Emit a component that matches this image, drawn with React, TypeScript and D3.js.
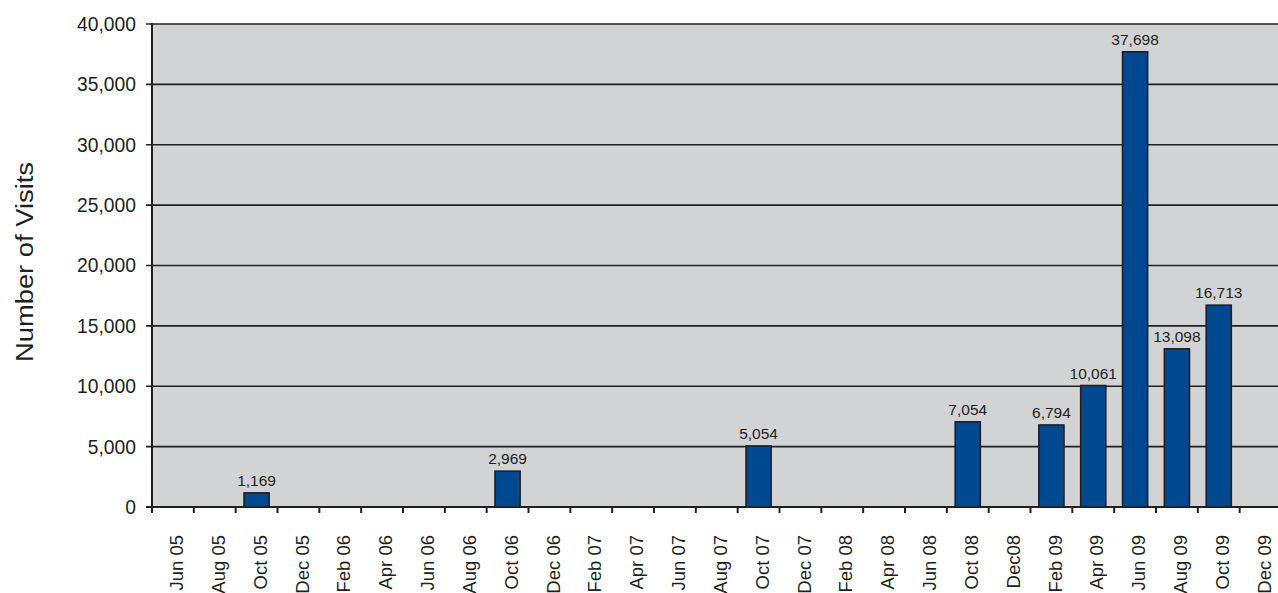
import React from "react";
import { scaleBand, scaleLinear, format } from "d3";

const svgWidth = 1278;
const svgHeight = 593;
const margin = { top: 24, left: 152, bottom: 86 };
const plotRight = 1281.5;
const tickLen = 6;

const months = [
  "Jun 05", "Aug 05", "Oct 05", "Dec 05", "Feb 06", "Apr 06", "Jun 06",
  "Aug 06", "Oct 06", "Dec 06", "Feb 07", "Apr 07", "Jun 07", "Aug 07",
  "Oct 07", "Dec 07", "Feb 08", "Apr 08", "Jun 08", "Oct 08", "Dec08",
  "Feb 09", "Apr 09", "Jun 09", "Aug 09", "Oct 09", "Dec 09",
];
const visitMonths = [
  "Oct 05", "Oct 06", "Oct 07", "Oct 08", "Feb 09", "Apr 09", "Jun 09",
  "Aug 09", "Oct 09",
];
const visits = [1169, 2969, 5054, 7054, 6794, 10061, 37698, 13098, 16713];
const yTicks = [0, 5000, 10000, 15000, 20000, 25000, 30000, 35000, 40000];

const ink = "#231f20";
const fmt = format(",");

export default function App() {
  const bottom = svgHeight - margin.bottom;
  const xScale = scaleBand<string>()
    .domain(months)
    .range([margin.left, plotRight])
    .paddingInner(0.4)
    .paddingOuter(0.2);
  const step = xScale.step();
  const bandStart = (m: string) => margin.left + months.indexOf(m) * step;
  const yScale = scaleLinear().domain([0, 40000]).range([bottom, margin.top]);

  return (
    <svg
      width={svgWidth}
      height={svgHeight}
      style={{ position: "absolute", left: 0, top: 0, overflow: "hidden" }}
      fontFamily="'Liberation Sans', Arial, sans-serif"
    >
      <rect width={svgWidth} height={svgHeight} fill="#fff" />
      <rect
        x={margin.left}
        y={margin.top}
        width={plotRight - margin.left}
        height={bottom - margin.top}
        fill="#d1d3d4"
      />
      {yTicks.map((t) => (
        <g key={`y-${t}`}>
          <line
            x1={margin.left - tickLen}
            x2={plotRight}
            y1={yScale(t)}
            y2={yScale(t)}
            stroke={ink}
            strokeWidth={t === 0 ? 2 : 1.6}
          />
          <text
            x={136}
            y={yScale(t)}
            dy="0.36em"
            textAnchor="end"
            fontSize={19.3}
            fill={ink}
          >
            {fmt(t)}
          </text>
        </g>
      ))}
      <line
        x1={margin.left}
        x2={margin.left}
        y1={margin.top - 1}
        y2={bottom + 1}
        stroke={ink}
        strokeWidth={2}
      />
      {months.map((m, i) => (
        <line
          key={`xt-${i}`}
          x1={bandStart(m)}
          x2={bandStart(m)}
          y1={bottom}
          y2={bottom + tickLen}
          stroke={ink}
          strokeWidth={2}
        />
      ))}
      {visitMonths.map((m, i) => {
        const x = xScale(m) as number;
        const y = yScale(visits[i]);
        return (
          <g key={`bar-${m}`}>
            <rect
              x={x}
              y={y}
              width={xScale.bandwidth()}
              height={bottom - y}
              fill="#004990"
              stroke={ink}
              strokeWidth={1.6}
            />
            <text
              x={x + xScale.bandwidth() / 2}
              y={y - 7}
              textAnchor="middle"
              fontSize={15.5}
              fill={ink}
            >
              {fmt(visits[i])}
            </text>
          </g>
        );
      })}
      {months.map((m, i) => (
        <text
          key={`xl-${i}`}
          transform={`translate(${(xScale(m) as number) + xScale.bandwidth() / 2 + 3.5},535) rotate(-90)`}
          dy="0.36em"
          textAnchor="end"
          fontSize={18.5}
          fill={ink}
        >
          {m}
        </text>
      ))}
      <text
        transform={`translate(25,262) rotate(-90)`}
        dy="0.36em"
        textAnchor="middle"
        fontSize={23.5}
        textLength={200}
        lengthAdjust="spacingAndGlyphs"
        fill={ink}
      >
        Number of Visits
      </text>
    </svg>
  );
}
